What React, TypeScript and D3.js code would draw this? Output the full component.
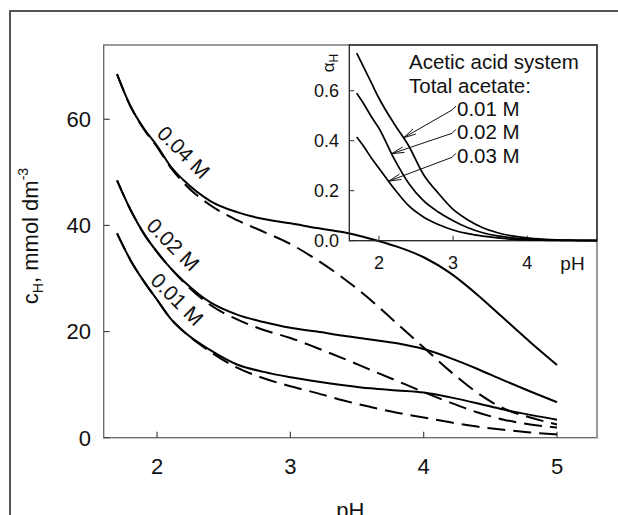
import React from 'react';
import * as d3 from 'd3';

// ---- main chart data (pH vs c_H, mmol dm^-3) ----
const pH = [1.7, 1.8, 1.9, 2.0, 2.1, 2.2, 2.4, 2.6, 2.8, 3.0, 3.2, 3.4, 3.6, 3.8, 4.0, 4.2, 4.4, 4.6, 4.8, 5.0];
const solid004 = [68.5, 62.5, 58.3, 55, 51.2, 48.5, 44.6, 42.5, 41.2, 40.4, 39.5, 38.7, 37.5, 36, 34, 31, 27, 22.5, 18, 13.7];
const dashed004 = [68.5, 62.5, 58.2, 54.8, 51, 48, 43.8, 41, 38.8, 36.5, 33.5, 30, 26, 21.5, 17, 12.5, 8.5, 5.5, 3.8, 2.5];
const solid002 = [48.5, 43, 38.5, 35, 32, 29.5, 25.5, 23.2, 21.8, 20.7, 20, 19.2, 18.5, 17.8, 16.7, 15, 13, 10.8, 8.7, 6.7];
const dashed002 = [48.5, 43, 38.5, 35, 32, 29.3, 25, 22.3, 20.3, 18.8, 16.9, 14.9, 12.8, 10.7, 8.6, 6.6, 4.8, 3.4, 2.5, 1.9];
const solid001 = [38.5, 33.5, 29.5, 26, 22.5, 20, 16.5, 13.8, 12.4, 11.4, 10.6, 9.9, 9.3, 8.9, 8.5, 7.6, 6.5, 5.3, 4.3, 3.4];
const dashed001 = [38.5, 33.5, 29.5, 26, 22.5, 20, 16.2, 13.2, 11.2, 9.7, 8.4, 7.0, 5.8, 4.7, 3.8, 2.9, 2.1, 1.5, 1.0, 0.6];
const mainLabels = ['0.04 M', '0.02 M', '0.01 M'];
const mainLabelPH = [2.2, 2.12, 2.15];
const mainLabelVal = [53.8, 36.4, 26.1];
const xTicks = [2, 3, 4, 5];
const yTicks = [0, 20, 40, 60];

// ---- inset data (pH vs alpha_H) ----
const pHi = [1.7, 1.8, 1.9, 2.0, 2.2, 2.4, 2.6, 2.8, 3.0, 3.2, 3.4, 3.6, 3.8, 4.0, 4.2, 4.4, 4.6, 4.8, 4.94];
const alpha001 = [0.75, 0.69, 0.63, 0.57, 0.47, 0.38, 0.265, 0.19, 0.125, 0.083, 0.052, 0.032, 0.019, 0.011, 0.006, 0.003, 0.002, 0.001, 0.001];
const alpha002 = [0.59, 0.545, 0.495, 0.45, 0.33, 0.23, 0.16, 0.115, 0.08, 0.052, 0.032, 0.019, 0.011, 0.006, 0.003, 0.002, 0.001, 0.001, 0];
const alpha003 = [0.415, 0.375, 0.33, 0.29, 0.21, 0.14, 0.095, 0.065, 0.043, 0.028, 0.018, 0.011, 0.006, 0.003, 0.002, 0.001, 0.001, 0, 0];
const insetLegend = ['0.01 M', '0.02 M', '0.03 M'];
const arrowTipPH = [2.33, 2.17, 2.13];
const insetXTicks = [2, 3, 4];
const insetYTicks = [0, 0.2, 0.4, 0.6];

const FONT = "'Liberation Sans', Arial, Helvetica, sans-serif";

export default function App() {
  const x = d3.scaleLinear().domain([1.6, 5.3]).range([103.7, 597]);
  const y = d3.scaleLinear().domain([0, 74]).range([437.7, 45]);
  const xi = d3.scaleLinear().domain([1.6, 4.94]).range([349.3, 597]);
  const yi = d3.scaleLinear().domain([0, 0.783]).range([240.7, 45]);

  const line = d3.line<number>().x((_, i) => x(pH[i])).y(d => y(d)).curve(d3.curveMonotoneX);
  const lineI = d3.line<number>().x((_, i) => xi(pHi[i])).y(d => yi(d)).curve(d3.curveMonotoneX);

  const solids = [solid004, solid002, solid001];
  const dasheds = [dashed004, dashed002, dashed001];
  const alphas = [alpha001, alpha002, alpha003];

  const [x0, x1] = x.range();
  const [y0, y1] = y.range();
  const [xi0, xi1] = xi.range();
  const [yi0, yi1] = yi.range();

  const interp = (xs: number[], ys: number[], v: number) => {
    for (let i = 0; i < xs.length - 1; i++) {
      if (v >= xs[i] && v <= xs[i + 1]) {
        const t = (v - xs[i]) / (xs[i + 1] - xs[i]);
        return ys[i] + t * (ys[i + 1] - ys[i]);
      }
    }
    return ys[ys.length - 1];
  };

  const legendBase = [116, 139.3, 163.3];

  return (
    <svg width={618} height={515} style={{ position: 'absolute', left: 0, top: 0, background: '#fff' }} fontFamily={FONT}>
      <rect x={0} y={0} width={618} height={515} fill="#fff" />
      {/* outer frame */}
      <rect x={10} y={11} width={700} height={600} fill="none" stroke="#555" strokeWidth={2} />

      {/* main frame */}
      <rect x={x0} y={y1} width={x1 - x0} height={y0 - y1} fill="none" stroke="#666" strokeWidth={1.3} />
      {xTicks.map(t => (
        <g key={'xt' + t}>
          <line x1={x(t)} x2={x(t)} y1={y0} y2={y0 - 6} stroke="#444" strokeWidth={1.2} />
          <text x={x(t)} y={474} textAnchor="middle" fontSize={22} fill="#111">{t}</text>
        </g>
      ))}
      {yTicks.map(t => (
        <g key={'yt' + t}>
          <line x1={x0} x2={x0 + 6} y1={y(t)} y2={y(t)} stroke="#444" strokeWidth={1.2} />
          <text x={91} y={y(t)} dy="0.36em" textAnchor="end" fontSize={22} fill="#111">{t}</text>
        </g>
      ))}
      <text x={(x0 + x1) / 2} y={518} textAnchor="middle" fontSize={22} fill="#111">pH</text>
      <text transform="translate(38,236) rotate(-90)" textAnchor="middle" fontSize={22} fill="#111">
        <tspan>c</tspan>
        <tspan fontSize={14} dy={5}>H</tspan>
        <tspan dy={-5}>, mmol dm</tspan>
        <tspan fontSize={14} dy={-10}>-3</tspan>
      </text>

      {/* main curves */}
      {dasheds.map((d, i) => (
        <path key={'d' + i} d={line(d) || ''} fill="none" stroke="#000" strokeWidth={2} strokeDasharray="18,8" />
      ))}
      {solids.map((d, i) => (
        <path key={'s' + i} d={line(d) || ''} fill="none" stroke="#000" strokeWidth={2} />
      ))}
      {mainLabels.map((l, i) => (
        <text key={'ml' + i}
          transform={`translate(${x(mainLabelPH[i])},${y(mainLabelVal[i])}) rotate(45)`}
          textAnchor="middle" dy="0.35em" fontSize={21} fill="#111">{l}</text>
      ))}

      {/* inset */}
      <rect x={xi0} y={yi1} width={xi1 - xi0} height={yi0 - yi1} fill="none" stroke="#222" strokeWidth={1.3} />
      {insetXTicks.map(t => (
        <g key={'ixt' + t}>
          <line x1={xi(t)} x2={xi(t)} y1={yi0} y2={yi0 - 5} stroke="#333" strokeWidth={1} />
          <text x={xi(t)} y={269} textAnchor="middle" fontSize={18} fill="#111">{t}</text>
        </g>
      ))}
      <text x={572.5} y={270} textAnchor="middle" fontSize={19} fill="#111">pH</text>
      {insetYTicks.map(t => (
        <g key={'iyt' + t}>
          <line x1={xi0} x2={xi0 + 5} y1={yi(t)} y2={yi(t)} stroke="#333" strokeWidth={1} />
          <text x={339} y={yi(t)} dy="0.36em" textAnchor="end" fontSize={18} fill="#111">{d3.format('.1f')(t)}</text>
        </g>
      ))}
      <text transform="translate(334,63) rotate(-90)" textAnchor="middle" fontSize={17} fill="#111">
        <tspan>α</tspan>
        <tspan fontSize={12} dy={4}>H</tspan>
      </text>
      {alphas.map((d, i) => (
        <path key={'a' + i} d={lineI(d) || ''} fill="none" stroke="#000" strokeWidth={1.7} />
      ))}
      <text x={409} y={69} fontSize={20.5} fill="#111">Acetic acid system</text>
      <text x={409} y={92.7} fontSize={20.5} fill="#111">Total acetate:</text>
      {insetLegend.map((l, i) => {
        const tx = xi(arrowTipPH[i]);
        const ty = yi(interp(pHi, alphas[i], arrowTipPH[i]));
        const sx = 452;
        const sy = legendBase[i] - 6;
        const ang = Math.atan2(sy - ty, sx - tx);
        const len = 13;
        const a1 = ang + 0.22;
        const a2 = ang - 0.22;
        return (
          <g key={'lg' + i}>
            <text x={457} y={legendBase[i]} fontSize={20.5} fill="#111">{l}</text>
            <path d={`M${tx},${ty} L${sx},${sy} Q${454},${sy - 2} ${456},${sy - 4}`} fill="none" stroke="#111" strokeWidth={1} />
            <line x1={tx} y1={ty} x2={tx + len * Math.cos(a1)} y2={ty + len * Math.sin(a1)} stroke="#111" strokeWidth={1} />
            <line x1={tx} y1={ty} x2={tx + len * Math.cos(a2)} y2={ty + len * Math.sin(a2)} stroke="#111" strokeWidth={1} />
          </g>
        );
      })}
    </svg>
  );
}
